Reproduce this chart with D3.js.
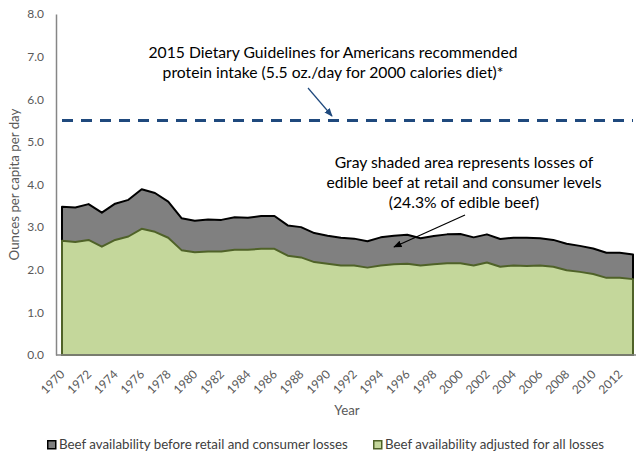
<!DOCTYPE html>
<html>
<head>
<meta charset="utf-8">
<script src="https://cdn.jsdelivr.net/npm/d3@7/dist/d3.min.js"></script>
<style>
	body { margin: 0; background: #fff; }
	svg text { font-family: Lato, "Open Sans", sans-serif; }
</style>
</head>
<body>
<svg id="chart" width="640" height="453"></svg>
<script>
var years = [1970, 1971, 1972, 1973, 1974, 1975, 1976, 1977, 1978, 1979,
	1980, 1981, 1982, 1983, 1984, 1985, 1986, 1987, 1988, 1989,
	1990, 1991, 1992, 1993, 1994, 1995, 1996, 1997, 1998, 1999,
	2000, 2001, 2002, 2003, 2004, 2005, 2006, 2007, 2008, 2009,
	2010, 2011, 2012, 2013];

// ounces per capita per day
var beforeLosses = [3.48, 3.46, 3.54, 3.34, 3.55, 3.64, 3.89, 3.80, 3.60, 3.21,
	3.15, 3.18, 3.17, 3.23, 3.22, 3.26, 3.26, 3.04, 3.00, 2.86,
	2.80, 2.75, 2.73, 2.67, 2.76, 2.80, 2.82, 2.74, 2.79, 2.83,
	2.84, 2.76, 2.83, 2.72, 2.75, 2.75, 2.74, 2.70, 2.61, 2.56,
	2.50, 2.40, 2.40, 2.36];

var adjusted = [2.68, 2.65, 2.70, 2.54, 2.70, 2.78, 2.96, 2.89, 2.75, 2.46,
	2.41, 2.43, 2.43, 2.47, 2.47, 2.49, 2.49, 2.33, 2.29, 2.18,
	2.14, 2.10, 2.10, 2.05, 2.10, 2.13, 2.14, 2.10, 2.13, 2.15,
	2.15, 2.10, 2.17, 2.07, 2.10, 2.09, 2.10, 2.07, 1.99, 1.95,
	1.90, 1.81, 1.81, 1.78];

var yTicks = [0, 1, 2, 3, 4, 5, 6, 7, 8];
var xTickYears = [1970, 1972, 1974, 1976, 1978, 1980, 1982, 1984, 1986, 1988,
	1990, 1992, 1994, 1996, 1998, 2000, 2002, 2004, 2006, 2008, 2010, 2012];

var guideline = 5.5;

var seriesNames = ["Beef availability before retail and consumer losses",
	"Beef availability adjusted for all losses"];

var svg = d3.select("#chart");

var x = d3.scaleLinear().domain([1970, 2013]).range([62, 633]),
	y = d3.scaleLinear().domain([0, 8]).range([355, 14]);

var defs = svg.append("defs");
[["arrowBlue", "#1F497D"], ["arrowBlack", "#000"]].forEach(function(m) {
	defs.append("marker")
		.attr("id", m[0])
		.attr("viewBox", "0 0 10 10")
		.attr("refX", 9).attr("refY", 5)
		.attr("markerWidth", 7).attr("markerHeight", 7)
		.attr("orient", "auto")
		.append("path")
		.attr("d", "M0,1 L10,5 L0,9 Z")
		.attr("fill", m[1]);
});

// areas overlap (not stacked), gray one is the total
var area = d3.area()
	.x(function(d, i) { return x(years[i]); })
	.y0(y(0))
	.y1(function(d) { return y(d); });

svg.append("path")
	.datum(beforeLosses)
	.attr("d", area)
	.attr("fill", "#808080")
	.attr("stroke", "#000")
	.attr("stroke-width", 2)
	.attr("stroke-linejoin", "round");

svg.append("path")
	.datum(adjusted)
	.attr("d", area)
	.attr("fill", "#C4D79B")
	.attr("stroke", "#4F6228")
	.attr("stroke-width", 2)
	.attr("stroke-linejoin", "round");

// axes
var yAxis = svg.append("g")
	.attr("transform", "translate(56,0)")
	.call(d3.axisLeft(y).tickValues(yTicks).tickSize(0).tickPadding(12).tickFormat(d3.format(".1f")));
yAxis.select(".domain").attr("stroke", "#868686").attr("stroke-width", 1.5);
yAxis.selectAll("text").attr("fill", "#595959").style("font-size", "12px");

svg.append("line")
	.attr("x1", 56).attr("x2", 636)
	.attr("y1", y(0)).attr("y2", y(0))
	.attr("stroke", "#868686").attr("stroke-width", 1.5);

var xAxis = svg.append("g")
	.attr("transform", "translate(0," + y(0) + ")")
	.call(d3.axisBottom(x).tickValues(xTickYears).tickSize(0).tickFormat(d3.format("d")));
xAxis.select(".domain").remove();
xAxis.selectAll("text")
	.attr("x", 0).attr("y", 0).attr("dy", null)
	.attr("transform", "translate(3,20) rotate(-45)")
	.style("text-anchor", "end")
	.style("font-size", "12px")
	.attr("fill", "#595959");

svg.append("text")
	.attr("transform", "translate(19," + y(4) + ") rotate(-90)")
	.attr("text-anchor", "middle")
	.attr("fill", "#595959")
	.style("font-size", "13.3px")
	.text("Ounces per capita per day");

svg.append("text")
	.attr("x", 347).attr("y", 415)
	.attr("text-anchor", "middle")
	.attr("fill", "#595959")
	.style("font-size", "13.3px")
	.text("Year");

// guideline
svg.append("line")
	.attr("x1", x(1970)).attr("x2", x(2013))
	.attr("y1", y(guideline)).attr("y2", y(guideline))
	.attr("stroke", "#1F497D")
	.attr("stroke-width", 3)
	.attr("stroke-dasharray", "11,8");

// annotations
var note1 = svg.append("text")
	.attr("text-anchor", "middle")
	.attr("fill", "#000")
	.style("font-size", "15.7px");
note1.append("tspan").attr("x", 333).attr("y", 58)
	.text("2015 Dietary Guidelines for Americans recommended");
note1.append("tspan").attr("x", 333).attr("y", 78)
	.text("protein intake (5.5 oz./day for 2000 calories diet)*");

svg.append("line")
	.attr("x1", 308).attr("y1", 88)
	.attr("x2", 332).attr("y2", 116)
	.attr("stroke", "#1F497D")
	.attr("stroke-width", 1.2)
	.attr("marker-end", "url(#arrowBlue)");

var note2 = svg.append("text")
	.attr("text-anchor", "middle")
	.attr("fill", "#000")
	.style("font-size", "15.7px");
["Gray shaded area represents losses of",
	"edible beef at retail and consumer levels",
	"(24.3% of edible beef)"].forEach(function(t, i) {
	note2.append("tspan").attr("x", 464).attr("y", 168 + i * 20).text(t);
});

svg.append("line")
	.attr("x1", 465).attr("y1", 215)
	.attr("x2", 394).attr("y2", 247)
	.attr("stroke", "#000")
	.attr("stroke-width", 1.2)
	.attr("marker-end", "url(#arrowBlack)");

// legend
var legendColors = [["#808080", "#000"], ["#C4D79B", "#4F6228"]],
	legendX = [47, 373];

var legend = svg.selectAll(".legend")
	.data(seriesNames)
	.enter().append("g")
	.attr("class", "legend")
	.attr("transform", function(d, i) { return "translate(" + legendX[i] + ",440)"; });

legend.append("rect")
	.attr("x", 0.75).attr("y", 0.75)
	.attr("width", 8).attr("height", 8)
	.attr("fill", function(d, i) { return legendColors[i][0]; })
	.attr("stroke", function(d, i) { return legendColors[i][1]; })
	.attr("stroke-width", 1.5);

legend.append("text")
	.attr("x", 12).attr("y", 9)
	.attr("fill", "#404040")
	.style("font-size", "13.3px")
	.text(function(d) { return d; });
</script>
</body>
</html>
